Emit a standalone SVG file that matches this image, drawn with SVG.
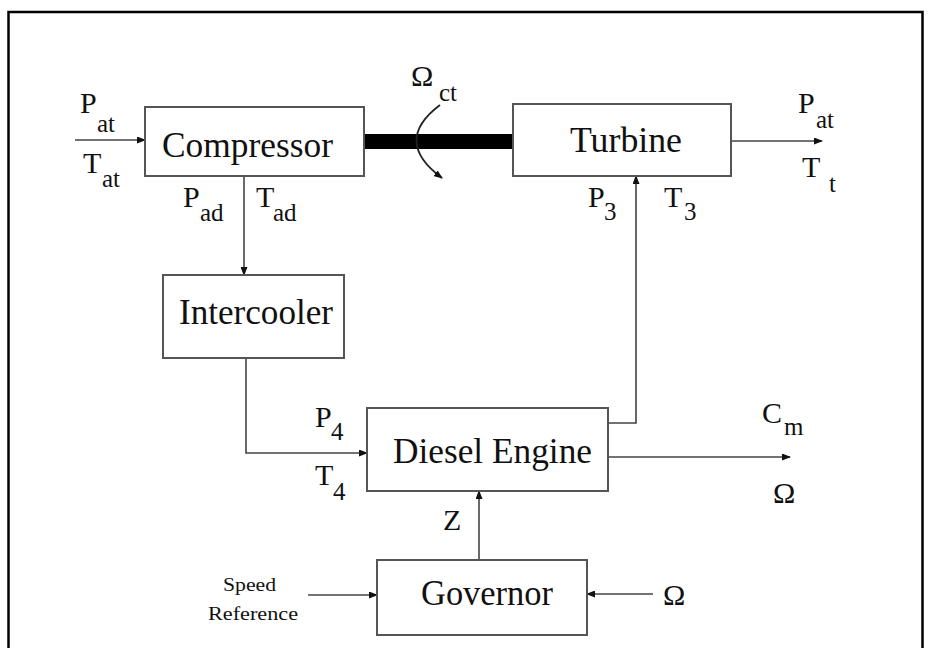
<svg xmlns="http://www.w3.org/2000/svg" width="932" height="648" viewBox="0 0 932 648">
<style>
.box{fill:#fff;stroke:#555;stroke-width:2}
.lbl{font-family:'Liberation Serif','DejaVu Serif','Times New Roman',serif;fill:#111}
.big{font-size:36px}
.v{font-size:30px}
.s{font-size:25px}
.c{fill:none;stroke:#444;stroke-width:1.6}
</style>
<defs>
<marker id="ah" markerUnits="userSpaceOnUse" markerWidth="9" markerHeight="7" refX="8" refY="3.5" orient="auto">
<path d="M0,0 L9,3.5 L0,7 z" fill="#111"/>
</marker>
</defs>
<rect width="932" height="648" fill="#fff"/>
<path d="M8.5 648 V12 H922.5 V648" fill="none" stroke="#000" stroke-width="2.5"/>

<g id="connectors">
<path class="c" d="M75 140 H145" marker-end="url(#ah)"/>
<path class="c" d="M244 176 V275" marker-end="url(#ah)"/>
<path class="c" d="M246 358 V453 H367" marker-end="url(#ah)"/>
<path class="c" d="M608 423 H636 V176" marker-end="url(#ah)"/>
<path class="c" d="M731 141 H822" marker-end="url(#ah)"/>
<path class="c" d="M608 457 H790" marker-end="url(#ah)"/>
<path class="c" d="M479 560 V491" marker-end="url(#ah)"/>
<path class="c" d="M308 595 H377" marker-end="url(#ah)"/>
<path class="c" d="M653 594 H587" marker-end="url(#ah)"/>
<rect x="364" y="134" width="151" height="15" fill="#000"/>
<path d="M440 105 Q392 141 442 178" fill="none" stroke="#222" stroke-width="1.8" marker-end="url(#ah)"/>
</g>

<g id="compressor" font-family="Liberation Serif, DejaVu Serif, serif">
<rect class="box" x="145" y="107" width="219" height="69"/>
<text class="lbl big" x="162" y="157" textLength="171" lengthAdjust="spacingAndGlyphs">Compressor</text>
</g>
<g id="turbine" font-family="Liberation Serif, DejaVu Serif, serif">
<rect class="box" x="513" y="104" width="218" height="72"/>
<text class="lbl big" x="570" y="152" textLength="112" lengthAdjust="spacingAndGlyphs">Turbine</text>
</g>
<g id="intercooler" font-family="Liberation Serif, DejaVu Serif, serif">
<rect class="box" x="163" y="275" width="181" height="83"/>
<text class="lbl big" x="179" y="324" textLength="154" lengthAdjust="spacingAndGlyphs" font-size="34">Intercooler</text>
</g>
<g id="diesel-engine" font-family="Liberation Serif, DejaVu Serif, serif">
<rect class="box" x="367" y="408" width="241" height="83"/>
<text class="lbl big" x="393" y="463" textLength="199" lengthAdjust="spacingAndGlyphs">Diesel Engine</text>
</g>
<g id="governor" font-family="Liberation Serif, DejaVu Serif, serif">
<rect class="box" x="377" y="560" width="210" height="75"/>
<text class="lbl big" x="421" y="605" textLength="132" lengthAdjust="spacingAndGlyphs">Governor</text>
</g>

<g id="labels" font-family="Liberation Serif, DejaVu Serif, serif">
<text class="lbl v" x="80" y="113">P</text><text class="lbl s" x="97" y="132">at</text>
<text class="lbl v" x="83" y="173">T</text><text class="lbl s" x="102" y="187">at</text>
<text class="lbl v" x="183" y="207">P</text><text class="lbl s" x="200" y="221">ad</text>
<text class="lbl v" x="256" y="207">T</text><text class="lbl s" x="273" y="221">ad</text>
<text class="lbl v" x="411" y="86" font-size="32">Ω</text><text class="lbl s" x="439" y="101">ct</text>
<text class="lbl v" x="798" y="113">P</text><text class="lbl s" x="816" y="128">at</text>
<text class="lbl v" x="802" y="177">T</text><text class="lbl s" x="829" y="192">t</text>
<text class="lbl v" x="588" y="207">P</text><text class="lbl s" x="604" y="220">3</text>
<text class="lbl v" x="664" y="207">T</text><text class="lbl s" x="684" y="220">3</text>
<text class="lbl v" x="315" y="427">P</text><text class="lbl s" x="331" y="440">4</text>
<text class="lbl v" x="315" y="485">T</text><text class="lbl s" x="333" y="500">4</text>
<text class="lbl v" x="762" y="423">C</text><text class="lbl s" x="784" y="435">m</text>
<text class="lbl v" x="773" y="503" font-size="32">Ω</text>
<text class="lbl v" x="443" y="530">Z</text>
<text class="lbl" x="223" y="591" font-size="19" textLength="53" lengthAdjust="spacingAndGlyphs">Speed</text>
<text class="lbl" x="208" y="620" font-size="19" textLength="90" lengthAdjust="spacingAndGlyphs">Reference</text>
<text class="lbl v" x="663" y="605" font-size="32">Ω</text>
</g>
</svg>
